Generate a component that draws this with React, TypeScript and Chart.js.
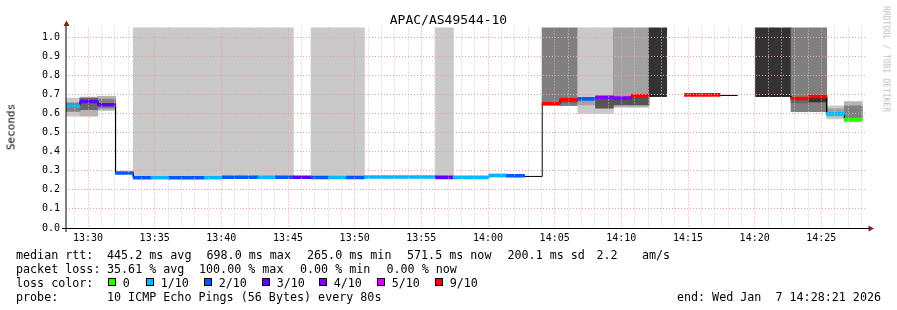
import React, { useEffect, useRef } from 'react';
import { Chart, registerables } from 'chart.js';

Chart.register(...registerables);

// ---------------- data ----------------
const TITLE = 'APAC/AS49544-10';
const Y_AXIS_TITLE = 'Seconds';
const WATERMARK = 'RRDTOOL / TOBI OETIKER';
const START_CLOCK = '13:28:21';
const SPAN_SECONDS = 3600;
const PROBE_STEP_SECONDS = 80;
const Y_MAX = 1.05;

// start of each 80 s probe round, seconds after START_CLOCK
const probeStartSeconds = [
  -17, 63, 143, 223, 303, 383, 463, 543, 623, 703, 783, 863, 943, 1023, 1103,
  1183, 1263, 1343, 1423, 1503, 1583, 1663, 1743, 1823, 1903, 1983, 2063, 2143,
  2223, 2303, 2383, 2463, 2543, 2623, 2703, 2783, 2863, 2943, 3023, 3103, 3183,
  3263, 3343, 3423, 3503,
];

// median rtt (s)
const medianRtt: (number | null)[] = [
  0.638, 0.662, 0.645, 0.288, 0.263, 0.263, 0.263, 0.263, 0.263, 0.266, 0.266,
  0.266, 0.266, 0.266, 0.264, 0.264, 0.264, 0.267, 0.267, 0.267, 0.267, 0.265,
  0.265, 0.265, 0.275, 0.273, 0.27, 0.65, 0.672, 0.676, 0.684, 0.68, 0.692,
  0.69, null, 0.697, 0.697, 0.694, null, 0.69, 0.69, 0.678, 0.688, 0.598, 0.568,
];

// packet loss in tenths (null: no loss colour drawn)
const lossTenths: (number | null)[] = [
  1, 3, 3, 2, 2, 1, 2, 2, 1, 2, 2, 1, 2, 3, 2, 1, 2, 1, 1, 1, 1, 3, 1, 1, 1, 2,
  null, 9, 9, 2, 4, 4, 9, null, null, 9, 9, null, null, null, null, 9, 9, 1, 0,
];

// pings above the plotted range (grey column from median to top)
const overflowPings: (number | null)[] = [
  null, null, null, null, 2, 2, 2, 2, 2, 2, 2, 2, 2, null, 2, 2, 2, null, null,
  null, null, 2, null, null, null, null, null, 5, 5, 2, 2, 4, 4, 8, null, null,
  null, null, null, 8, 8, 5, 5, null, null,
];

// outer smoke band
const smokeOuterLow: (number | null)[] = [
  0.586, 0.586, 0.615, null, null, null, null, null, null, null, null, null,
  null, null, null, null, null, null, null, null, null, null, null, null, 0.268,
  0.268, null, 0.645, 0.64, 0.6, 0.6, 0.632, 0.632, null, null, null, null, null,
  null, null, null, 0.609, 0.609, 0.571, 0.555,
];
const smokeOuterHigh: (number | null)[] = [
  0.68, 0.685, 0.69, null, null, null, null, null, null, null, null, null, null,
  null, null, null, null, null, null, null, null, null, null, null, 0.283, 0.279,
  null, 0.66, 0.68, 0.676, 0.684, 0.68, 0.692, null, null, null, null, null,
  null, null, null, 0.678, 0.688, 0.639, 0.662,
];
const smokeOuterPings: (number | null)[] = [
  2, 3, 3, null, null, null, null, null, null, null, null, null, null, null,
  null, null, null, null, null, null, null, null, null, null, 2, 2, null, 5, 5,
  2, 2, 3, 3, null, null, null, null, null, null, null, null, 5, 5, 2, 3,
];

// inner smoke band
const smokeInnerLow: (number | null)[] = [
  0.61, 0.62, 0.628, null, null, null, null, null, null, null, null, null, null,
  null, null, null, null, null, null, null, null, null, null, null, null, null,
  null, null, 0.655, 0.645, 0.628, 0.645, 0.645, null, null, null, null, null,
  null, null, null, 0.655, 0.66, 0.585, 0.577,
];
const smokeInnerHigh: (number | null)[] = [
  0.655, 0.68, 0.675, null, null, null, null, null, null, null, null, null,
  null, null, null, null, null, null, null, null, null, null, null, null, null,
  null, null, null, 0.68, 0.676, 0.675, 0.68, 0.692, null, null, null, null,
  null, null, null, null, 0.678, 0.688, 0.625, 0.64,
];
const smokeInnerPings: (number | null)[] = [
  5, 6, 5, null, null, null, null, null, null, null, null, null, null, null,
  null, null, null, null, null, null, null, null, null, null, null, null, null,
  null, 6, 4, 7, 7, 7, null, null, null, null, null, null, null, null, 6, 8, 4,
  5,
];

const xTickLabels = [
  '13:30', '13:35', '13:40', '13:45', '13:50', '13:55', '14:00', '14:05',
  '14:10', '14:15', '14:20', '14:25',
];
const yTickValues = [0, 0.1, 0.2, 0.3, 0.4, 0.5, 0.6, 0.7, 0.8, 0.9, 1.0];

const lossLegendTenths = [0, 1, 2, 3, 4, 5, 9];
const lossLegendLabels = ['0', '1/10', '2/10', '3/10', '4/10', '5/10', '9/10'];

const statsMedianItems = ['median rtt:', '445.2 ms avg', '698.0 ms max', '265.0 ms min', '571.5 ms now', '200.1 ms sd', '2.2', 'am/s'];
const statsLossItems = ['packet loss:', '35.61 % avg', '100.00 % max', '0.00 % min', '0.00 % now'];
const lossColorCaption = 'loss color:';
const probeItems = ['probe:', '10 ICMP Echo Pings (56 Bytes) every 80s'];
const endLine = 'end: Wed Jan  7 14:28:21 2026';

// ---------------- styles / layout ----------------
const LOSS_COLORS: Record<number, string> = {
  0: '#26ff00',
  1: '#00b8ff',
  2: '#0059ff',
  3: '#5e00ff',
  4: '#7e00ff',
  5: '#dd00ff',
  9: '#ff0000',
};
const GRAY_BY_PINGS: Record<number, string> = {
  1: '#dcdcdc',
  2: '#c9c9c9',
  3: '#b4b4b4',
  4: '#a1a1a1',
  5: '#7f7f7f',
  6: '#666666',
  7: '#555555',
  8: '#333333',
};
const MONO = '"DejaVu Sans Mono", monospace';
const W = 897;
const H = 310;
const PLOT_LEFT = 66;
const PLOT_RIGHT = 866;
const PLOT_BOTTOM = 228;
const PLOT_TOP = PLOT_BOTTOM - 191 * Y_MAX;
const BAR_PX = ((PLOT_RIGHT - PLOT_LEFT) / SPAN_SECONDS) * PROBE_STEP_SECONDS + 0.15;
const MAJOR_GRID = '#eaa0a0';
const MINOR_GRID = '#c8c8c8';
const medianItemX = [16, 107, 206.5, 307, 407, 507.5, 596.5, 642];
const lossItemX = [16, 107, 199, 300, 386.5];
const probeItemX = [16, 107];
const legendSquareX = [108, 146, 204, 262, 319, 377, 435];

// ---------------- helpers ----------------
const clockToSec = (s: string) => {
  const p = s.split(':').map(Number);
  return p[0] * 3600 + p[1] * 60 + (p[2] || 0);
};
const startSec = clockToSec(START_CLOCK);
const majorTickMap = new Map<number, string>();
xTickLabels.forEach((l) => majorTickMap.set(clockToSec(l) - startSec, l));
const firstMajor = clockToSec(xTickLabels[0]) - startSec;
const minuteTicks: number[] = [];
for (let t = firstMajor % 60; t <= SPAN_SECONDS; t += 60) minuteTicks.push(t);

function bandData(lo: (number | null)[], hi: (number | null)[], shade: (number | null)[]) {
  const data: { x: number; y: [number, number] }[] = [];
  const colors: string[] = [];
  probeStartSeconds.forEach((t, i) => {
    const a = lo[i];
    const b = hi[i];
    if (a == null || b == null) return;
    data.push({ x: t + PROBE_STEP_SECONDS / 2, y: [a, b] });
    colors.push(GRAY_BY_PINGS[shade[i] ?? 3]);
  });
  return { data, colors };
}

function buildConfig(): any {
  const lossBars: { x: number; y: [number, number] }[] = [];
  const lossBarColors: string[] = [];
  probeStartSeconds.forEach((t, i) => {
    const m = medianRtt[i];
    const l = lossTenths[i];
    if (m == null || l == null) return;
    lossBars.push({ x: t + PROBE_STEP_SECONDS / 2, y: [m - 0.0075, m + 0.0075] });
    lossBarColors.push(LOSS_COLORS[l]);
  });

  const medianLine: { x: number; y: number | null }[] = [];
  probeStartSeconds.forEach((t, i) => {
    const m = medianRtt[i];
    if (m == null) {
      medianLine.push({ x: t + PROBE_STEP_SECONDS / 2, y: null });
      return;
    }
    medianLine.push({ x: t, y: m }, { x: t + PROBE_STEP_SECONDS, y: m });
  });

  const overflowTop = overflowPings.map((p) => (p == null ? null : 1.3));
  const overflow = bandData(medianRtt, overflowTop, overflowPings);
  const outer = bandData(smokeOuterLow, smokeOuterHigh, smokeOuterPings);
  const inner = bandData(smokeInnerLow, smokeInnerHigh, smokeInnerPings);

  const barCommon = {
    type: 'bar',
    barThickness: BAR_PX,
    categoryPercentage: 1,
    barPercentage: 1,
    borderWidth: 0,
    borderSkipped: false,
  };

  return {
    type: 'bar',
    data: {
      datasets: [
        { ...barCommon, label: 'loss', data: lossBars, backgroundColor: lossBarColors },
        {
          type: 'line',
          label: 'median',
          data: medianLine,
          borderColor: '#000000',
          borderWidth: 1,
          pointRadius: 0,
          tension: 0,
          spanGaps: false,
          fill: false,
        },
        { ...barCommon, label: 'inner', data: inner.data, backgroundColor: inner.colors },
        { ...barCommon, label: 'outer', data: outer.data, backgroundColor: outer.colors },
        { ...barCommon, label: 'overflow', data: overflow.data, backgroundColor: overflow.colors },
      ],
    },
    options: {
      responsive: false,
      maintainAspectRatio: false,
      animation: false,
      devicePixelRatio: 1,
      layout: { padding: { top: PLOT_TOP, right: W - PLOT_RIGHT, left: 0, bottom: 0 } },
      plugins: { legend: { display: false }, tooltip: { enabled: false }, title: { display: false } },
      scales: {
        x: {
          type: 'linear',
          min: 0,
          max: SPAN_SECONDS,
          offset: false,
          stacked: true,
          afterBuildTicks: (s: any) => {
            s.ticks = minuteTicks.map((v) => ({ value: v }));
          },
          afterFit: (s: any) => {
            s.height = H - PLOT_BOTTOM;
          },
          ticks: {
            autoSkip: false,
            maxRotation: 0,
            minRotation: 0,
            padding: 4,
            color: '#000000',
            font: { family: MONO, size: 10 },
            callback: (v: number) => majorTickMap.get(v) ?? '',
          },
          grid: {
            z: 1,
            offset: false,
            drawTicks: false,
            lineWidth: 1,
            color: (ctx: any) => (ctx.tick && majorTickMap.has(ctx.tick.value) ? MAJOR_GRID : MINOR_GRID),
          },
          border: { display: false, dash: [1, 2] },
        },
        y: {
          type: 'linear',
          min: 0,
          max: Y_MAX,
          stacked: false,
          afterBuildTicks: (s: any) => {
            s.ticks = yTickValues.map((v) => ({ value: v }));
          },
          afterFit: (s: any) => {
            s.width = PLOT_LEFT;
          },
          ticks: {
            padding: 6,
            color: '#000000',
            font: { family: MONO, size: 10 },
            callback: (v: number) => v.toFixed(1),
          },
          grid: { z: 1, drawTicks: false, lineWidth: 1, color: MAJOR_GRID },
          border: { display: false, dash: [1, 2] },
        },
      },
    },
    plugins: [
      {
        id: 'rrdAxes',
        afterDraw(chart: any) {
          const { ctx, chartArea } = chart;
          const l = chartArea.left;
          const b = chartArea.bottom;
          ctx.save();
          ctx.strokeStyle = '#000000';
          ctx.lineWidth = 1;
          ctx.beginPath();
          ctx.moveTo(l, b + 4);
          ctx.lineTo(l, chartArea.top - 2);
          ctx.stroke();
          ctx.beginPath();
          ctx.moveTo(l - 4, b + 0.5);
          ctx.lineTo(chartArea.right + 3, b + 0.5);
          ctx.stroke();
          ctx.fillStyle = '#7f1f1f';
          ctx.beginPath();
          ctx.moveTo(l + 0.5, chartArea.top - 7);
          ctx.lineTo(l + 3.5, chartArea.top - 1.5);
          ctx.lineTo(l - 2.5, chartArea.top - 1.5);
          ctx.closePath();
          ctx.fill();
          ctx.beginPath();
          ctx.moveTo(chartArea.right + 8, b + 0.5);
          ctx.lineTo(chartArea.right + 2.5, b - 2.5);
          ctx.lineTo(chartArea.right + 2.5, b + 3.5);
          ctx.closePath();
          ctx.fill();
          ctx.restore();
        },
      },
    ],
  };
}

export default function App() {
  const ref = useRef<HTMLCanvasElement>(null);
  useEffect(() => {
    const chart = new Chart(ref.current as HTMLCanvasElement, buildConfig());
    return () => chart.destroy();
  }, []);

  const textBase: React.CSSProperties = {
    position: 'absolute',
    font: `11.7px ${MONO}`,
    lineHeight: '14px',
    whiteSpace: 'pre',
    color: '#000',
  };

  return (
    <div style={{ position: 'fixed', left: 0, top: 0, width: W, height: H, background: '#fff', overflow: 'hidden' }}>
      <canvas ref={ref} width={W} height={H} style={{ position: 'absolute', left: 0, top: 0, width: W, height: H }} />
      <div style={{ position: 'absolute', left: 0, top: 12, width: W, textAlign: 'center', font: `13px ${MONO}`, lineHeight: '16px', color: '#000' }}>
        {TITLE}
      </div>
      <div
        style={{
          position: 'absolute',
          left: 11,
          top: 127,
          transform: 'translate(-50%, -50%) rotate(-90deg)',
          font: `11px ${MONO}`,
          whiteSpace: 'nowrap',
          color: '#000',
        }}
      >
        {Y_AXIS_TITLE}
      </div>
      <div
        style={{
          position: 'absolute',
          left: 886,
          top: 59,
          transform: 'translate(-50%, -50%) rotate(90deg)',
          font: `8px ${MONO}`,
          whiteSpace: 'nowrap',
          color: '#bdbdbd',
        }}
      >
        {WATERMARK}
      </div>
      {statsMedianItems.map((s, i) => (
        <div key={'m' + i} style={{ ...textBase, left: medianItemX[i], top: 248 }}>{s}</div>
      ))}
      {statsLossItems.map((s, i) => (
        <div key={'l' + i} style={{ ...textBase, left: lossItemX[i], top: 261.5 }}>{s}</div>
      ))}
      <div style={{ ...textBase, left: 16, top: 275.5 }}>{lossColorCaption}</div>
      {lossLegendTenths.map((t, i) => (
        <React.Fragment key={t}>
          <div
            style={{
              position: 'absolute',
              left: legendSquareX[i],
              top: 278,
              width: 6,
              height: 6,
              border: '1px solid #000',
              background: LOSS_COLORS[t],
            }}
          />
          <div style={{ ...textBase, left: legendSquareX[i] + 14.7, top: 275.5 }}>{lossLegendLabels[i]}</div>
        </React.Fragment>
      ))}
      {probeItems.map((s, i) => (
        <div key={'p' + i} style={{ ...textBase, left: probeItemX[i], top: 289.5 }}>{s}</div>
      ))}
      <div style={{ ...textBase, right: W - 881, top: 289.5 }}>{endLine}</div>
    </div>
  );
}
